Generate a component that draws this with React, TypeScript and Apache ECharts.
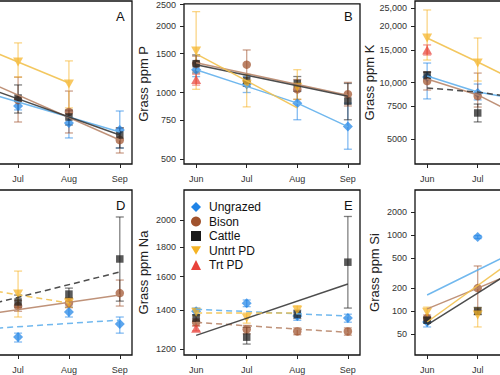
import React, { useEffect, useRef } from "react";
import * as echarts from "echarts";

// ---------- categories & labels ----------
const months = ["Jun", "Jul", "Aug", "Sep"];
const groups = ["Ungrazed", "Bison", "Cattle", "Untrt PD", "Trt PD"];

const pTicks = [500, 750, 1000, 1500, 2000, 2500];
const kTicks = [5000, 7500, 10000, 15000, 20000, 25000];
const naTicks = [1200, 1400, 1600, 1800, 2000];
const siTicks = [50, 100, 200, 500, 1000, 2000];

type P = [number, number, number] | null; // [mean, lower, upper]
type F = (number | null)[];

// ---------- Panel A (axis off-picture) ----------
const aUngrazed: P[] = [null, [1721, 1652, 1829], [1446, 1240, 1634], [1345, 1119, 1634]];
const aBison: P[] = [null, [1829, 1460, 2311], [1618, 1305, 2004], [1214, 1063, 1374]];
const aCattle: P[] = [null, [1866, 1600, 2133], [1537, 1416, 1650], [1278, 1119, 1374]];
const aUntrt: P[] = [null, [2698, 2311, 3280], [2153, 1686, 2728], null];
const aTrt: P[] = [null, null, null, null];
const aFitUngrazed: F = [2089, null, null, 1318];
const aFitBison: F = [2421, null, null, 1214];
const aFitCattle: F = [2223, null, null, 1278];
const aFitUntrt: F = [3345, null, 2175, null];

// ---------- Panel B: P ----------
const bUngrazed: P[] = [[1268, 1180, 1360], [1089, 1000, 1180], [895, 753, 1014], [701, 554, 895]];
const bBison: P[] = [[1350, 1250, 1460], [1336, 1120, 1557], [1034, 930, 1145], [982, 869, 1111]];
const bCattle: P[] = [[1350, 1226, 1479], [1134, 1066, 1205], [1099, 1014, 1181], [914, 753, 1099]];
const bUntrt: P[] = [[1541, 1034, 2321], [1089, 861, 1205], [1055, 933, 1268], null];
const bTrt: P[] = [[1145, 1080, 1210], null, null, null];
const bFitUngrazed: F = [1268, 1066, 895, 701];
const bFitBison: F = [1364, null, null, 972];
const bFitCattle: F = [1336, null, null, 962];
const bFitUntrt: F = [1495, null, 852, null];

// ---------- Panel C: K ----------
const cUngrazed: P[] = [[10730, 8190, 12740], [8810, 8090, 9840], null, null];
const cBison: P[] = [[10210, 9140, 11400], [8490, 7410, 11260], null, null];
const cCattle: P[] = [[10990, 10470, 11400], [6890, 6170, 7690], null, null];
const cUntrt: P[] = [[17340, 13220, 24490], [12740, 10210, 17340], null, null];
const cTrt: P[] = [[14960, 14060, 15920], null, null, null];
const cFitUngrazed: F = [10860, 8910, 7980, null];
const cFitBison: F = [10470, 8600, 6280, null];
const cFitCattle: F = [9370, 8910, 8180, null];
const cFitUntrt: F = [17340, 12900, 9480, null];

// ---------- Panel D (axis off-picture) ----------
const dUngrazed: P[] = [null, [1057, 1033, 1076], [1186, 1159, 1213], [1122, 1076, 1159]];
const dBison: P[] = [null, [1219, 1190, 1250], [1236, 1210, 1262], [1294, 1219, 1374]];
const dCattle: P[] = [null, [1242, 1213, 1282], [1288, 1265, 1324], [1514, 1247, 1837]];
const dUntrt: P[] = [null, [1288, 1159, 1432], [1236, 1213, 1265], null];
const dTrt: P[] = [null, null, null, null];
const dFitUngrazed: F = [1091, null, null, 1143];
const dFitBison: F = [1159, null, null, 1282];
const dFitCattle: F = [1197, null, null, 1426];
const dFitUntrt: F = [1333, null, 1236, null];

// ---------- Panel E: Na ----------
const eUngrazed: P[] = [[1394, 1375, 1412], [1439, 1420, 1458], [1368, 1345, 1390], [1357, 1335, 1378]];
const eBison: P[] = [[1334, 1315, 1352], [1298, 1275, 1318], [1287, 1270, 1305], [1287, 1268, 1305]];
const eCattle: P[] = [[1357, 1340, 1375], [1258, 1224, 1308], [1378, 1355, 1400], [1694, 1412, 2031]];
const eUntrt: P[] = [[1389, 1370, 1408], [1357, 1330, 1384], [1400, 1375, 1425], null];
const eTrt: P[] = [[1303, 1290, 1316], null, null, null];
const eFitUngrazed: F = [1405, null, null, 1368];
const eFitBison: F = [1334, null, null, 1282];
const eFitCattle: F = [1267, null, null, 1553];
const eFitUntrt: F = [1384, null, 1384, null];

// ---------- Panel F: Si ----------
const fUngrazed: P[] = [[72, 62, 84], [945, 900, 990], null, null];
const fBison: P[] = [[81, 74, 89], [201, 103, 393], null, null];
const fCattle: P[] = [[76, 70, 82], [100, 90, 112], null, null];
const fUntrt: P[] = [[97, 81, 113], [89, 62, 110], null, null];
const fTrt: P[] = [null, null, null, null];
const fFitUngrazed: F = [163, 348, 741, null];
const fFitBison: F = [107, 201, 381, null];
const fFitCattle: F = [66, 173, 457, null];
const fFitUntrt: F = [72, null, 657, null];

// ---------- styling ----------
const markerColors = ["#1f83e6", "#a0522d", "#1a1a1a", "#f5b324", "#e8413a"];
const lineColors = ["#62b0ec", "#b8866a", "#3a3a3a", "#f2c14e", "#e8413a"];
const symbols: any[] = ["diamond", "circle", "rect", "path://M0,0L20,0L10,17Z", "triangle"];
const symbolSizes: any[] = [10, 8.5, 7.5, [10, 9], [10, 9]];
const FONT = "'Liberation Sans', Arial, Helvetica, sans-serif";

const L10 = (v: number) => Math.log10(v);

type Panel = {
  letter: string;
  left: number; top: number; width: number; height: number;
  yMin: number; yMax: number;
  ticks: number[];
  xTicks: number[];
  title: string;
  pts: P[][];
  fits: F[];
  dashed: boolean[];
};

const OX = 100; // container shifted left by this many pixels
const CW = 800; // container width (wider than the window; the window crops it)

const panels: Panel[] = [
  { letter: "A", left: 55, top: 1, width: 177, height: 163, yMin: 950, yMax: 5035, ticks: [], xTicks: [2, 3, 4], title: "",
    pts: [aUngrazed, aBison, aCattle, aUntrt, aTrt], fits: [aFitUngrazed, aFitBison, aFitCattle, aFitUntrt],
    dashed: [false, false, false, false] },
  { letter: "B", left: 284, top: 1, width: 176, height: 163, yMin: 475, yMax: 2518, ticks: pTicks, xTicks: [1, 2, 3, 4], title: "Grass ppm P",
    pts: [bUngrazed, bBison, bCattle, bUntrt, bTrt], fits: [bFitUngrazed, bFitBison, bFitCattle, bFitUntrt],
    dashed: [false, false, false, false] },
  { letter: "C", left: 515, top: 1, width: 176, height: 163, yMin: 3675, yMax: 27350, ticks: kTicks, xTicks: [1, 2], title: "Grass ppm K",
    pts: [cUngrazed, cBison, cCattle, cUntrt, cTrt], fits: [cFitUngrazed, cFitBison, cFitCattle, cFitUntrt],
    dashed: [false, false, true, false] },
  { letter: "D", left: 55, top: 190, width: 177, height: 165, yMin: 973, yMax: 2080, ticks: [], xTicks: [2, 3, 4], title: "",
    pts: [dUngrazed, dBison, dCattle, dUntrt, dTrt], fits: [dFitUngrazed, dFitBison, dFitCattle, dFitUntrt],
    dashed: [true, false, true, true] },
  { letter: "E", left: 284, top: 190, width: 176, height: 165, yMin: 1172, yMax: 2256, ticks: naTicks, xTicks: [1, 2, 3, 4], title: "Grass ppm Na",
    pts: [eUngrazed, eBison, eCattle, eUntrt, eTrt], fits: [eFitUngrazed, eFitBison, eFitCattle, eFitUntrt],
    dashed: [true, true, false, true] },
  { letter: "F", left: 515, top: 190, width: 176, height: 165, yMin: 26.5, yMax: 3926, ticks: siTicks, xTicks: [1, 2], title: "Grass ppm Si",
    pts: [fUngrazed, fBison, fCattle, fUntrt, fTrt], fits: [fFitUngrazed, fFitBison, fFitCattle, fFitUntrt],
    dashed: [false, false, false, false] },
];

const fmtTick = (v: number) => {
  const n = Math.round(Math.pow(10, v));
  return n >= 10000 ? n.toLocaleString("en-US") : String(n);
};

function buildOption() {
  const grid: any[] = [];
  const xAxis: any[] = [];
  const yAxis: any[] = [];
  const series: any[] = [];
  const graphic: any[] = [];

  panels.forEach((pn, i) => {
    grid.push({
      left: pn.left, top: pn.top, width: pn.width, height: pn.height,
      show: true, borderColor: "#111", borderWidth: 1.3, backgroundColor: "transparent",
    });
    xAxis.push({
      type: "value", gridIndex: i, min: 0.76, max: 4.24,
      axisLine: { show: false }, splitLine: { show: false },
      axisTick: { show: true, length: 4, customValues: [1, 2, 3, 4], lineStyle: { color: "#222", width: 1 } },
      axisLabel: { customValues: pn.xTicks, formatter: (v: number) => months[Math.round(v) - 1],
        fontSize: 9, color: "#333", margin: 10, fontFamily: FONT },
    });
    yAxis.push({
      type: "value", gridIndex: i, min: L10(pn.yMin), max: L10(pn.yMax),
      axisLine: { show: false }, splitLine: { show: false },
      axisTick: { show: pn.ticks.length > 0, length: 4, customValues: pn.ticks.map(L10), lineStyle: { color: "#222", width: 1 } },
      axisLabel: { show: pn.ticks.length > 0, customValues: pn.ticks.map(L10), formatter: fmtTick,
        fontSize: 9, color: "#333", margin: 8, fontFamily: FONT },
      name: pn.title, nameLocation: "middle", nameRotate: 90, nameGap: 34,
      nameTextStyle: { fontSize: 13, color: "#222", fontFamily: FONT },
    });

    // fit lines
    pn.fits.forEach((fit, g) => {
      const data = fit.map((v, k) => (v == null ? null : [k + 1, L10(v)])).filter((d) => d != null);
      series.push({
        type: "line", name: `${pn.letter}-${groups[g]}-fit`, xAxisIndex: i, yAxisIndex: i,
        data, showSymbol: false, symbol: "none", z: 4, silent: true,
        lineStyle: { color: lineColors[g], width: 1.5, type: pn.dashed[g] ? [6, 4] : "solid", opacity: 0.9 },
      });
    });

    pn.pts.forEach((pts, g) => {
      const errData = pts.map((p, k) => (p ? [k + 1, L10(p[1]), L10(p[2])] : null)).filter((d) => d != null);
      const col = markerColors[g];
      if (errData.length) {
        series.push({
          type: "custom", name: `${pn.letter}-${groups[g]}-err`, xAxisIndex: i, yAxisIndex: i, z: 2, silent: true,
          encode: { x: 0, y: [1, 2] },
          data: errData,
          renderItem: (params: any, api: any) => {
            const x = api.value(0);
            const p1 = api.coord([x, api.value(1)]);
            const p2 = api.coord([x, api.value(2)]);
            const w = 4;
            const st = { stroke: col, lineWidth: 1.3, opacity: 0.55 };
            return {
              type: "group",
              children: [
                { type: "line", shape: { x1: p1[0], y1: p1[1], x2: p2[0], y2: p2[1] }, style: st },
                { type: "line", shape: { x1: p1[0] - w, y1: p1[1], x2: p1[0] + w, y2: p1[1] }, style: st },
                { type: "line", shape: { x1: p2[0] - w, y1: p2[1], x2: p2[0] + w, y2: p2[1] }, style: st },
              ],
            };
          },
        });
      }
      const mData = pts.map((p, k) => (p ? [k + 1, L10(p[0])] : null)).filter((d) => d != null);
      series.push({
        type: "scatter", name: pn.letter === "E" ? groups[g] : `${pn.letter}-${groups[g]}`,
        xAxisIndex: i, yAxisIndex: i, z: 3, silent: true,
        data: mData, symbol: symbols[g], symbolSize: symbolSizes[g],
        itemStyle: { color: col, opacity: 0.72 },
      });
    });

    if (pn.letter !== "C" && pn.letter !== "F") {
      graphic.push({
        type: "text", left: pn.left + pn.width - 16, top: pn.top + 9,
        style: { text: pn.letter, fontSize: 13, fill: "#111", fontFamily: FONT },
      });
    }
  });

  return {
    animation: false,
    backgroundColor: "#fff",
    textStyle: { fontFamily: FONT },
    grid, xAxis, yAxis, series, graphic,
    legend: {
      data: groups, orient: "vertical", left: 286, top: 196,
      itemWidth: 10, itemHeight: 10, itemGap: 2.5,
      itemStyle: { opacity: 1 },
      textStyle: { fontSize: 12, color: "#111", fontFamily: FONT, lineHeight: 12, padding: [0, 0, 0, 3] },
      selectedMode: false,
    },
  };
}

export default function App() {
  const ref = useRef<HTMLDivElement>(null);
  useEffect(() => {
    const chart = echarts.init(ref.current!, undefined, { renderer: "svg" });
    chart.setOption(buildOption() as any);
    return () => chart.dispose();
  }, []);
  return (
    <div
      ref={ref}
      style={{ position: "fixed", left: -OX, top: 0, width: CW, height: 375, background: "#fff" }}
    />
  );
}
